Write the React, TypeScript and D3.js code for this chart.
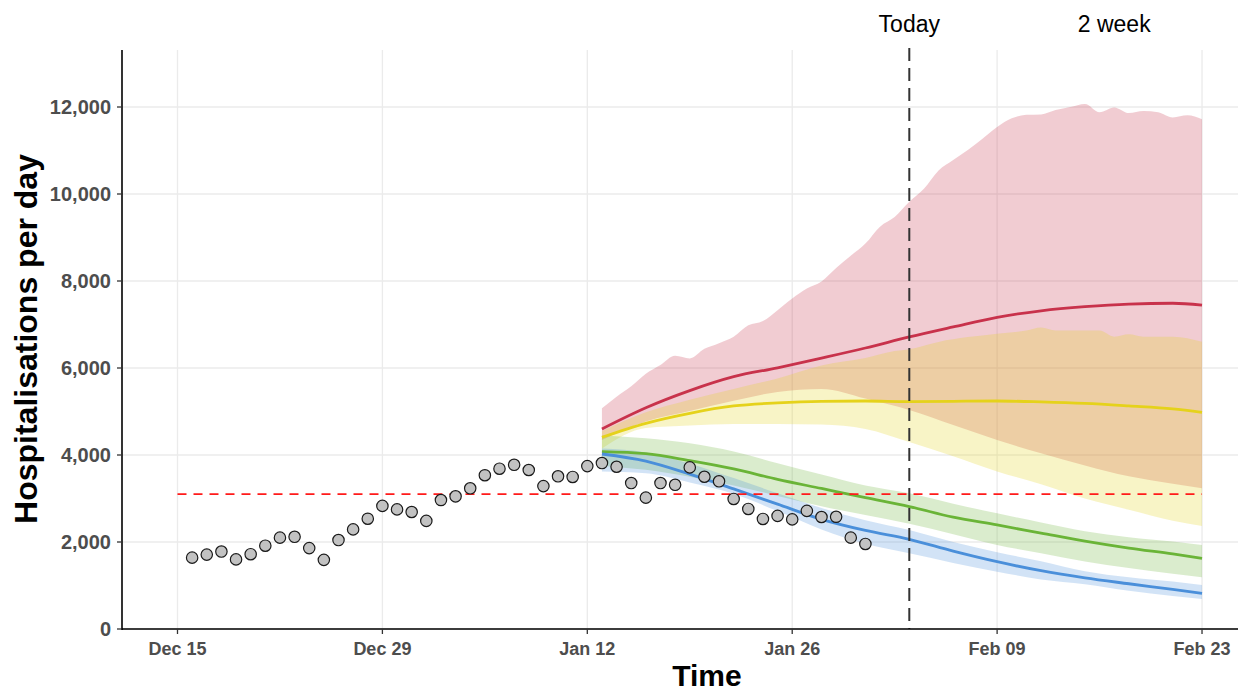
import * as d3 from "d3";

const W = 1240;
const H = 691;

// observed daily hospitalisations, one per day from Dec 16
const OBS_START = new Date(2020, 11, 16);
const observed = [
  1640, 1710, 1780, 1600, 1720, 1915, 2100, 2120, 1860, 1590,
  2045, 2290, 2535, 2830, 2750, 2690, 2485, 2965, 3050, 3235,
  3535, 3685, 3775, 3655, 3285, 3510, 3495, 3745, 3815, 3730,
  3355, 3020, 3355, 3315, 3715, 3500, 3395, 2990, 2760, 2530,
  2600, 2520, 2715, 2575, 2580, 2100, 1955,
];

// projections, day offsets from Jan 13
const PROJ_START = new Date(2021, 0, 13);
const sampleDays = [0, 3, 6, 9, 12, 15, 18, 21, 24, 27, 30, 33, 36, 39, 41];

const redMedian = [4598, 5085, 5480, 5800, 6005, 6228, 6460, 6715, 6945, 7166, 7315, 7410, 7470, 7488, 7445];
const redLower = [4345, 4770, 5010, 5250, 5450, 5520, 5300, 5035, 4690, 4345, 4040, 3760, 3510, 3340, 3235];
const redUpperDays = d3.range(0, 42);
const redUpper = [
  5073, 5340, 5580, 5870, 6070, 6280, 6220, 6440, 6570, 6720,
  6980, 7080, 7330, 7600, 7830, 7990, 8300, 8580, 8860, 9250,
  9470, 9820, 10120, 10540, 10780, 11010, 11270, 11540, 11740, 11820,
  11830, 11930, 12000, 12070, 11880, 11990, 11860, 11910, 11880, 11760,
  11810, 11720,
];

const yellowMedian = [4407, 4729, 4959, 5127, 5200, 5235, 5241, 5228, 5235, 5241, 5220, 5185, 5127, 5060, 4982];
const yellowLower = [4150, 4620, 4680, 4710, 4713, 4700, 4600, 4300, 3970, 3620, 3330, 3000, 2740, 2490, 2368];
const yellowUpperDays = [0, 3, 6, 9, 12, 15, 18, 20, 21, 23, 25, 27, 29, 30, 31, 33, 34, 35, 36, 37, 39, 41];
const yellowUpper = [
  4550, 4980, 5270, 5520, 5760, 6060, 6230, 6390, 6430, 6600, 6710,
  6790, 6860, 6930, 6860, 6860, 6860, 6720, 6775, 6720, 6720, 6605,
];

const greenMedian = [4077, 4030, 3870, 3680, 3440, 3230, 3020, 2815, 2570, 2391, 2205, 2020, 1860, 1725, 1625];
const greenLower = [3750, 3660, 3500, 3300, 3060, 2820, 2620, 2420, 2180, 1931, 1740, 1550, 1400, 1270, 1188];
const greenUpper = [4450, 4384, 4270, 4080, 3809, 3550, 3300, 3119, 2880, 2660, 2450, 2250, 2110, 2010, 1931];

const blueMedian = [4023, 3860, 3560, 3220, 2870, 2520, 2265, 2062, 1790, 1547, 1340, 1175, 1040, 910, 821];
const blueLower = [3620, 3579, 3370, 3110, 2710, 2290, 1960, 1740, 1520, 1317, 1140, 1030, 880, 760, 690];
const blueUpper = [4150, 4060, 3800, 3470, 3120, 2780, 2500, 2276, 2000, 1763, 1560, 1330, 1190, 1090, 1012];

const xTicks = [
  new Date(2020, 11, 15), new Date(2020, 11, 29), new Date(2021, 0, 12),
  new Date(2021, 0, 26), new Date(2021, 1, 9), new Date(2021, 1, 23),
];
const yTicks = [0, 2000, 4000, 6000, 8000, 10000, 12000];
const THRESHOLD = 3100;
const TODAY = new Date(2021, 1, 3);
const TWO_WEEK = new Date(2021, 1, 17);

const scenarios = [
  { key: "red", color: "#C8324B", median: redMedian, upDays: redUpperDays, up: redUpper, lo: redLower },
  { key: "yellow", color: "#E5D21B", median: yellowMedian, upDays: yellowUpperDays, up: yellowUpper, lo: yellowLower },
  { key: "green", color: "#6AB437", median: greenMedian, upDays: sampleDays, up: greenUpper, lo: greenLower },
  { key: "blue", color: "#4A8FDA", median: blueMedian, upDays: sampleDays, up: blueUpper, lo: blueLower },
];

const LEFT = 122;
const RIGHT = 1238;
const TOP = 50;
const BOTTOM = 629;
const FONT = "'Liberation Sans', Arial, sans-serif";

export default function App() {
  const x = d3
    .scaleTime()
    .domain([
      d3.timeHour.offset(xTicks[0], -3.756 * 24),
      d3.timeHour.offset(xTicks[5], 2.46 * 24),
    ])
    .range([LEFT, RIGHT]);
  const y = d3.scaleLinear().domain([0, 12000]).range([BOTTOM, 107]);

  const projDate = (d: number) => d3.timeDay.offset(PROJ_START, d);
  const line = d3
    .line<[number, number]>()
    .x((d) => x(projDate(d[0])))
    .y((d) => y(d[1]))
    .curve(d3.curveMonotoneX);

  // ribbon = upper edge forward, lower edge back
  const bandPath = (upDays: number[], up: number[], lo: number[]) => {
    const top = line(upDays.map((d, i) => [d, up[i]] as [number, number]));
    const bottom = line(sampleDays.map((d, i) => [d, lo[i]] as [number, number]).reverse());
    return top + "L" + (bottom as string).slice(1) + "Z";
  };

  return (
    <svg
      width={W}
      height={H}
      style={{ position: "absolute", left: 0, top: 0, background: "#fff" }}
      fontFamily={FONT}
    >
      {/* grid */}
      {yTicks.map((t) => (
        <line key={"gy" + t} x1={LEFT} x2={RIGHT} y1={y(t)} y2={y(t)} stroke="#EBEBEB" strokeWidth={1.3} />
      ))}
      {xTicks.map((t) => (
        <line key={"gx" + t.getTime()} x1={x(t)} x2={x(t)} y1={TOP} y2={BOTTOM} stroke="#EBEBEB" strokeWidth={1.3} />
      ))}

      {/* ribbons */}
      {scenarios.map((s) => (
        <path key={"b" + s.key} d={bandPath(s.upDays, s.up, s.lo)} fill={s.color} fillOpacity={0.25} />
      ))}

      {/* medians */}
      {scenarios.map((s) => (
        <path
          key={"m" + s.key}
          d={line(sampleDays.map((d, i) => [d, s.median[i]] as [number, number])) as string}
          fill="none"
          stroke={s.color}
          strokeWidth={2.8}
        />
      ))}

      {/* threshold */}
      <line
        x1={x(xTicks[0])}
        x2={x(xTicks[5])}
        y1={y(THRESHOLD)}
        y2={y(THRESHOLD)}
        stroke="#FF1A1A"
        strokeWidth={1.8}
        strokeDasharray="9,7"
      />

      {/* today */}
      <line
        x1={x(TODAY)}
        x2={x(TODAY)}
        y1={TOP - 2}
        y2={BOTTOM}
        stroke="#333"
        strokeWidth={2}
        strokeDasharray="13,7"
      />

      {/* observed */}
      {observed.map((v, i) => (
        <circle
          key={"p" + i}
          cx={x(d3.timeDay.offset(OBS_START, i))}
          cy={y(v)}
          r={5.7}
          fill="#C2C2C2"
          stroke="#1A1A1A"
          strokeWidth={1.2}
        />
      ))}

      {/* axes */}
      <line x1={LEFT} x2={LEFT} y1={TOP} y2={BOTTOM + 1} stroke="#000" strokeWidth={1.6} />
      <line x1={LEFT - 1} x2={RIGHT} y1={BOTTOM} y2={BOTTOM} stroke="#000" strokeWidth={1.6} />
      {yTicks.map((t) => (
        <g key={"ty" + t}>
          <line x1={LEFT - 5} x2={LEFT} y1={y(t)} y2={y(t)} stroke="#333" strokeWidth={1.3} />
          <text
            x={LEFT - 11}
            y={y(t)}
            dy="0.36em"
            textAnchor="end"
            fontSize={20}
            fontWeight="bold"
            fill="#4D4D4D"
          >
            {d3.format(",")(t)}
          </text>
        </g>
      ))}
      {xTicks.map((t) => (
        <g key={"tx" + t.getTime()}>
          <line x1={x(t)} x2={x(t)} y1={BOTTOM} y2={BOTTOM + 5} stroke="#333" strokeWidth={1.3} />
          <text
            x={x(t)}
            y={655}
            textAnchor="middle"
            fontSize={18}
            fontWeight="bold"
            fill="#4D4D4D"
          >
            {d3.timeFormat("%b %d")(t)}
          </text>
        </g>
      ))}

      {/* titles */}
      <text x={707} y={686} textAnchor="middle" fontSize={30} fontWeight="bold" fill="#000">
        Time
      </text>
      <text
        transform={`translate(37, ${339}) rotate(-90)`}
        textAnchor="middle"
        fontSize={32}
        fontWeight="bold"
        fill="#000"
      >
        Hospitalisations per day
      </text>

      {/* annotations */}
      <text x={x(TODAY)} y={32} textAnchor="middle" fontSize={23} fill="#000">
        Today
      </text>
      <text x={x(TWO_WEEK)} y={32} textAnchor="middle" fontSize={23} fill="#000">
        2 week
      </text>
    </svg>
  );
}
